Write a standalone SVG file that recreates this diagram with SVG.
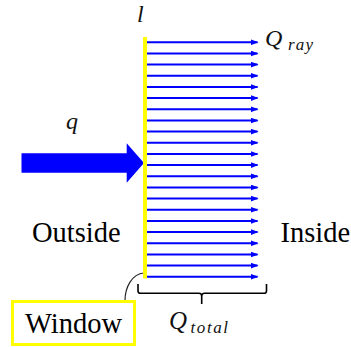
<svg xmlns="http://www.w3.org/2000/svg" width="351" height="347" viewBox="0 0 351 347">
<style>
text{font-family:"Liberation Serif","Times New Roman",Times,"DejaVu Serif",serif}
.lbl{font-size:28.5px;fill:#000}
.m{font-style:italic;fill:#111}
.ray{stroke:#0000ff;stroke-width:2;fill:none}
</style>
<defs>
<marker id="ah" markerWidth="8" markerHeight="6" refX="7" refY="3" orient="auto" markerUnits="userSpaceOnUse">
<path d="M0,0 L8,3 L0,6 Z" fill="#0000ff"/>
</marker>
</defs>
<rect width="351" height="347" fill="#fff"/>
<g id="connectors">
<g id="rays">
<line class="ray" x1="146" y1="42.3" x2="257.5" y2="42.3" marker-end="url(#ah)"/>
<line class="ray" x1="146" y1="53.5" x2="257.5" y2="53.5" marker-end="url(#ah)"/>
<line class="ray" x1="146" y1="64.6" x2="257.5" y2="64.6" marker-end="url(#ah)"/>
<line class="ray" x1="146" y1="75.8" x2="257.5" y2="75.8" marker-end="url(#ah)"/>
<line class="ray" x1="146" y1="87" x2="257.5" y2="87" marker-end="url(#ah)"/>
<line class="ray" x1="146" y1="98.1" x2="257.5" y2="98.1" marker-end="url(#ah)"/>
<line class="ray" x1="146" y1="109.3" x2="257.5" y2="109.3" marker-end="url(#ah)"/>
<line class="ray" x1="146" y1="120.5" x2="257.5" y2="120.5" marker-end="url(#ah)"/>
<line class="ray" x1="146" y1="131.6" x2="257.5" y2="131.6" marker-end="url(#ah)"/>
<line class="ray" x1="146" y1="142.8" x2="257.5" y2="142.8" marker-end="url(#ah)"/>
<line class="ray" x1="146" y1="154" x2="257.5" y2="154" marker-end="url(#ah)"/>
<line class="ray" x1="146" y1="165.1" x2="257.5" y2="165.1" marker-end="url(#ah)"/>
<line class="ray" x1="146" y1="176.3" x2="257.5" y2="176.3" marker-end="url(#ah)"/>
<line class="ray" x1="146" y1="187.5" x2="257.5" y2="187.5" marker-end="url(#ah)"/>
<line class="ray" x1="146" y1="198.6" x2="257.5" y2="198.6" marker-end="url(#ah)"/>
<line class="ray" x1="146" y1="209.8" x2="257.5" y2="209.8" marker-end="url(#ah)"/>
<line class="ray" x1="146" y1="221" x2="257.5" y2="221" marker-end="url(#ah)"/>
<line class="ray" x1="146" y1="232.1" x2="257.5" y2="232.1" marker-end="url(#ah)"/>
<line class="ray" x1="146" y1="243.3" x2="257.5" y2="243.3" marker-end="url(#ah)"/>
<line class="ray" x1="146" y1="254.5" x2="257.5" y2="254.5" marker-end="url(#ah)"/>
<line class="ray" x1="146" y1="265.6" x2="257.5" y2="265.6" marker-end="url(#ah)"/>
<line class="ray" x1="146" y1="276.8" x2="257.5" y2="276.8" marker-end="url(#ah)"/>
</g>
<path id="big-arrow" d="M21.5,153.3 H126.7 V143.3 L144,163 L126.7,182.7 V172.7 H21.5 Z" fill="#0000ff"/>
<path id="window-leader" d="M125,300.5 C125,287 132,274 144,273" fill="none" stroke="#222" stroke-width="1.2"/>
<path id="brace" d="M138,284 V291 Q138,293.3 140.5,293.3 H199 Q201.7,293.3 201.7,296 V304 M201.7,296 Q201.7,293.3 204.4,293.3 H264 Q266.5,293.3 266.5,291 V284" fill="none" stroke="#000" stroke-width="1.6"/>
</g>
<g id="wall">
<line x1="145" y1="37" x2="145" y2="278.5" stroke="#ffff00" stroke-width="4"/>
</g>
<g id="window">
<rect x="12.5" y="301.5" width="122" height="43" fill="#fff" stroke="#ffff00" stroke-width="3"/>
<text class="lbl" x="73.5" y="333" text-anchor="middle">Window</text>
</g>
<g id="labels">
<text class="m" x="137" y="22" font-size="24">l</text>
<text class="m" x="66" y="129" font-size="24">q</text>
<text class="m" x="265" y="45.5" font-size="24">Q<tspan x="288" y="49.5" font-size="17" textLength="25">ray</tspan></text>
<text class="m" x="169" y="328.5" font-size="25">Q<tspan x="190.5" y="332.7" font-size="17" textLength="37.5">total</tspan></text>
<text class="lbl" x="32" y="241.5">Outside</text>
<text class="lbl" x="280.5" y="241.5">Inside</text>
</g>
</svg>
